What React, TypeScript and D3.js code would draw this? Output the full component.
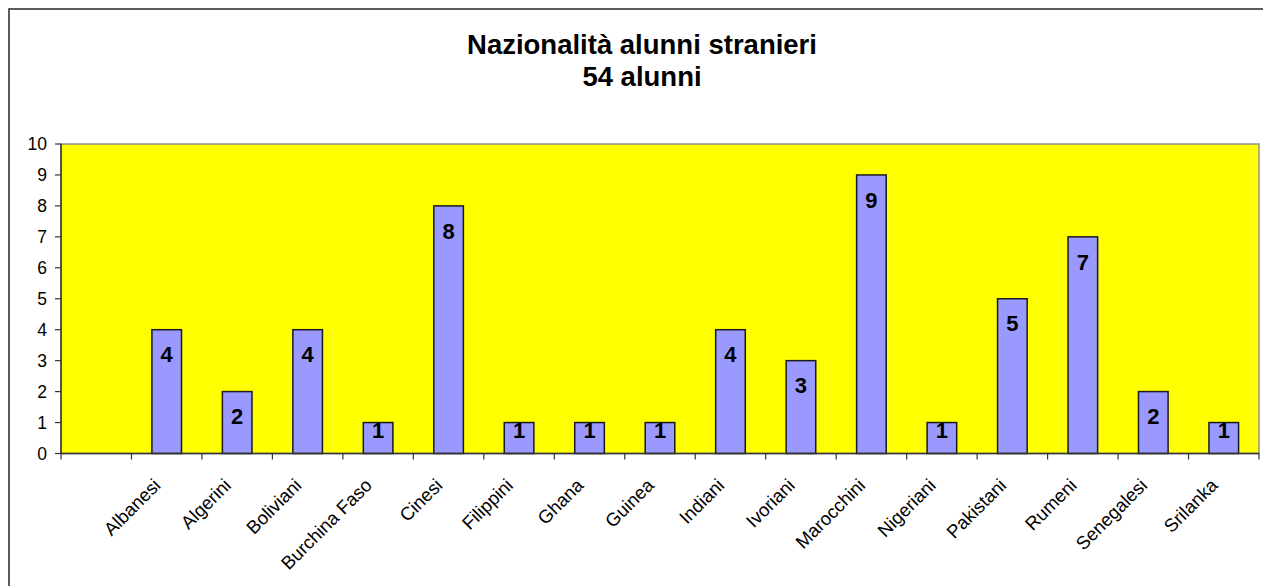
import React from "react";
import * as d3 from "d3";

const categories = ["", "Albanesi", "Algerini", "Boliviani", "Burchina Faso", "Cinesi", "Filippini", "Ghana", "Guinea", "Indiani", "Ivoriani", "Marocchini", "Nigeriani", "Pakistani", "Rumeni", "Senegalesi", "Srilanka"];
const values: (number | null)[] = [null, 4, 2, 4, 1, 8, 1, 1, 1, 4, 3, 9, 1, 5, 7, 2, 1];
const yTicks = [0, 1, 2, 3, 4, 5, 6, 7, 8, 9, 10];
const titleLines = ["Nazionalità alunni stranieri", "54 alunni"];

const FONT = "'Liberation Sans', Arial, Helvetica, sans-serif";

export default function App() {
  const W = 1263, H = 586;
  const left = 61, right = 1259, top = 144, bottom = 453.5;
  const x = d3.scaleBand<number>().domain(d3.range(categories.length)).range([left, right]).paddingInner(0).paddingOuter(0);
  const y = d3.scaleLinear().domain([0, 10]).range([bottom, top]);
  const bw = x.bandwidth() * 0.42;
  const boundaries = d3.range(categories.length + 1).map((i) => left + i * x.step());

  return (
    <svg width={W} height={H} style={{ position: "absolute", left: 0, top: 0 }} fontFamily={FONT}>
      <rect x={0} y={0} width={W} height={H} fill="#fff" />
      <rect x={9} y={9} width={1400} height={900} fill="#fff" stroke="#333" strokeWidth={1.6} />
      {titleLines.map((t, i) => (
        <text key={i} x={642} y={54 + i * 32} textAnchor="middle" fontWeight="bold" fontSize={27.5} fill="#000">
          {t}
        </text>
      ))}
      <rect x={left} y={top} width={right - left} height={bottom - top} fill="#ffff00" stroke="#909090" strokeWidth={1.5} />
      {values.map((v, i) =>
        v == null ? null : (
          <rect key={i} x={x(i)! + (x.bandwidth() - bw) / 2} y={y(v)} width={bw} height={y(0) - y(v)} fill="#9999ff" stroke="#1a1a1a" strokeWidth={1.5} />
        )
      )}
      {/* axes */}
      <line x1={left} x2={left} y1={top} y2={bottom} stroke="#333" strokeWidth={1.5} />
      <line x1={left} x2={right} y1={bottom} y2={bottom} stroke="#333" strokeWidth={1.5} />
      {yTicks.map((t) => (
        <g key={t}>
          <line x1={left - 6} x2={left} y1={y(t)} y2={y(t)} stroke="#333" strokeWidth={1.2} />
          <text x={left - 14} y={y(t)} dy="0.36em" textAnchor="end" fontSize={17.5} fill="#000">
            {t}
          </text>
        </g>
      ))}
      {boundaries.map((b, i) => (
        <line key={i} x1={b} x2={b} y1={bottom} y2={bottom + 6} stroke="#333" strokeWidth={1.2} />
      ))}
      {categories.map((c, i) => {
        const cx = x(i)! + x.bandwidth() / 2;
        return (
          <text key={i} transform={`translate(${cx - 5},${bottom + 33}) rotate(-45)`} textAnchor="end" fontSize={18.5} fill="#000">
            {c}
          </text>
        );
      })}
      {values.map((v, i) => {
        if (v == null) return null;
        const cx = x(i)! + x.bandwidth() / 2;
        const cy = Math.min(y(v) + 25, y(0) - 23);
        return (
          <text key={i} x={cx} y={cy} dy="0.35em" textAnchor="middle" fontWeight="bold" fontSize={22} fill="#000">
            {v}
          </text>
        );
      })}
    </svg>
  );
}
